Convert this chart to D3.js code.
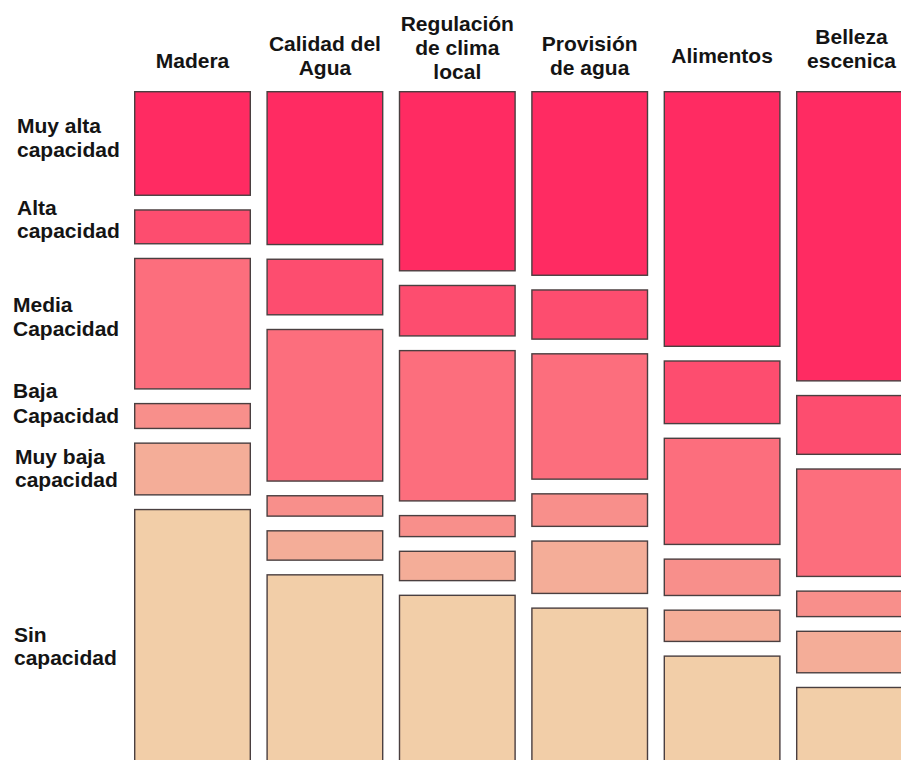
<!DOCTYPE html>
<html lang="es">
<head>
<meta charset="utf-8">
<script src="https://cdn.jsdelivr.net/npm/d3@7/dist/d3.min.js"></script>
<style>
  html, body { margin: 0; padding: 0; background: #ffffff; overflow: hidden; }
  svg { display: block; }
  text { font-family: "Liberation Sans", Arial, "DejaVu Sans", sans-serif; font-weight: bold; fill: #141414; }
</style>
</head>
<body>
<svg id="chart" width="901" height="760"></svg>
<script>
// Ecosystem services and their supply capacity (% of area per class)
const services = ["Madera", "Calidad del Agua", "Regulación de clima local", "Provisión de agua", "Alimentos", "Belleza escenica"];
const serviceLines = [["Madera"], ["Calidad del", "Agua"], ["Regulación", "de clima", "local"], ["Provisión", "de agua"], ["Alimentos"], ["Belleza", "escenica"]];

const levels = ["Muy alta capacidad", "Alta capacidad", "Media Capacidad", "Baja Capacidad", "Muy baja capacidad", "Sin capacidad"];
const levelLines = [["Muy alta", "capacidad"], ["Alta", "capacidad"], ["Media", "Capacidad"], ["Baja", "Capacidad"], ["Muy baja", "capacidad"], ["Sin", "capacidad"]];

const muyAlta = [16.4, 24.1, 28.2, 28.9, 40.0, 45.4];
const alta    = [5.5, 8.9, 8.1, 7.9, 10.0, 9.4];
const media   = [20.6, 23.9, 23.7, 19.8, 16.8, 17.0];
const baja    = [4.1, 3.4, 3.5, 5.3, 5.9, 4.2];
const muyBaja = [8.3, 4.8, 4.8, 8.4, 5.1, 6.7];
const sin     = [45.1, 34.9, 31.7, 29.7, 22.2, 17.3];

const seriesByLevel = [muyAlta, alta, media, baja, muyBaja, sin];

// ---- layout ----
const W = 901, H = 760;
const plotTop = 91;
const plotH = 640;       // pixel height for 100 %
const gap = 13.3;        // vertical space between classes
const fontSize = 21;
const levelColors = ["#ff2b62", "#fd4d6f", "#fc6e7d", "#f88f8b", "#f4ad98", "#f2cea8"];

const svg = d3.select("#chart");

const x = d3.scaleBand()
  .domain(services)
  .range([134, 913])
  .paddingInner(0.1163)
  .paddingOuter(0);

const h = d3.scaleLinear().domain([0, 100]).range([0, plotH]);

const color = d3.scaleOrdinal().domain(levels).range(levelColors);

// stacked segments per service, with a fixed gap between classes
const cells = [];
services.forEach((s, j) => {
  let cum = 0;
  levels.forEach((lv, i) => {
    const v = seriesByLevel[i][j];
    cells.push({ service: s, level: lv, i, j, y0: cum, value: v });
    cum += v;
  });
});
const yTop = d => plotTop + h(d.y0) + d.i * gap;

svg.append("g")
  .selectAll("rect")
  .data(cells)
  .join("rect")
  .attr("x", d => x(d.service) + 0.7)
  .attr("y", d => yTop(d) + 0.7)
  .attr("width", x.bandwidth() - 1.4)
  .attr("height", d => h(d.value) - 1.4)
  .attr("fill", d => color(d.level))
  .attr("stroke", "#4a3f40")
  .attr("stroke-width", 1.4);

// column headers (last-line baselines)
const headerBaseline = [68, 75, 79, 75, 63, 68];
const headerLine = 24;
const headers = svg.append("g").attr("font-size", fontSize).attr("text-anchor", "middle");
services.forEach((s, j) => {
  const lines = serviceLines[j];
  const center = x(s) + x.bandwidth() / 2;
  const t = headers.append("text");
  lines.forEach((ln, k) => {
    t.append("tspan")
      .attr("x", center)
      .attr("y", headerBaseline[j] - headerLine * (lines.length - 1 - k))
      .text(ln);
  });
  // keep the label inside the canvas
  const bw = t.node().getBBox().width;
  const cx = Math.min(center, W - bw / 2 - 5);
  t.selectAll("tspan").attr("x", cx);
});

// row labels, aligned with the first column's segments
const rowOffset = [-10.5, -12, -12, -18, -5, -11];
const rowLineGap = [24, 23, 24, 25, 23, 23.3];
const rowX = [17, 17, 13, 13, 15, 14];
const first = cells.filter(c => c.j === 0);
const rows = svg.append("g").attr("font-size", fontSize);
first.forEach((c, i) => {
  const mid = yTop(c) + h(c.value) / 2;
  const t = rows.append("text");
  levelLines[i].forEach((ln, k) => {
    t.append("tspan")
      .attr("x", rowX[i])
      .attr("y", mid + rowOffset[i] + k * rowLineGap[i])
      .text(ln);
  });
});
</script>
</body>
</html>
